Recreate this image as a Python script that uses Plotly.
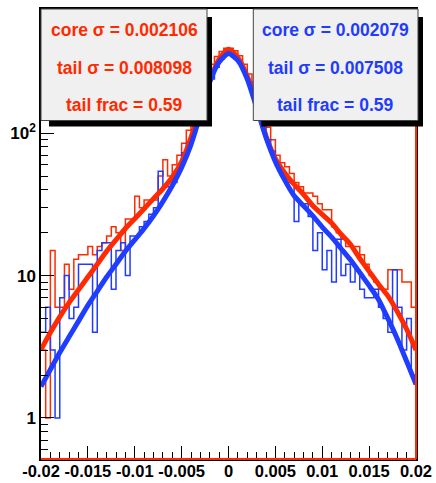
import numpy as np
import plotly.graph_objects as go

# ---- data -----------------------------------------------------------------
x_lo, x_hi = -0.02, 0.02
n_bins = 80

red_counts = [3, 1, 15, 6, 6, 12, 8, 13, 14, 14, 16, 14, 16, 17, 19, 22, 20, 15, 25, 25,
              36, 30, 34, 34, 34, 50, 65, 50, 60, 70, 85, 105, 135, 170, 215, 260, 305, 345, 375, 395,
              395, 380, 350, 305, 260, 215, 170, 135, 110, 90, 70, 62, 58, 52, 45, 42, 38, 38, 36, 32,
              29, 29, 22, 20, 18, 16, 16, 16, 14, 12, 10, 9, 8, 8, 11, 11, 11, 9, 9, 6]

blue_counts = [4, 6, 3, 1, 7, 10, 5, 6, 12, 12, 12, 4, 15, 17, 17, 8, 15, 17, 10, 19,
               19, 22, 24, 27, 30, 54, 42, 42, 45, 55, 73, 85, 100, 125, 150, 190, 240, 290, 330, 355,
               360, 345, 315, 275, 230, 185, 145, 110, 90, 75, 60, 52, 45, 45, 24, 32, 32, 26, 15, 20,
               11, 15, 9, 18, 10, 12, 9, 11, 8, 7, 7, 8, 6, 5, 4, 11, 6, 3, 5, 2]

fit_x = [-0.020, -0.019, -0.018, -0.017, -0.016, -0.015, -0.014, -0.013, -0.012, -0.011,
         -0.010, -0.009, -0.008, -0.007, -0.006, -0.005, -0.004, -0.003, -0.002, -0.001,
         0.000, 0.001, 0.002, 0.003, 0.004, 0.005, 0.006, 0.007, 0.008, 0.009,
         0.010, 0.011, 0.012, 0.013, 0.014, 0.015, 0.016, 0.017, 0.018, 0.019, 0.020]

red_fit = [3.02, 3.98, 5.13, 6.46, 7.94, 9.77, 12.0, 14.8, 17.8, 21.4,
           25.1, 29.5, 34.7, 40.7, 49.0, 63.1, 93.3, 151, 234, 331,
           389, 339, 251, 158, 95.5, 66.1, 52.5, 43.7, 37.2, 30.9,
           26.9, 23.4, 19.5, 16.6, 13.2, 10.7, 8.7, 7.2, 5.6, 4.2, 3.0]

blue_fit = [1.66, 2.19, 2.88, 3.72, 4.79, 6.17, 7.76, 9.77, 12.0, 14.8,
            17.8, 21.4, 26.3, 33.1, 42.7, 57.5, 83.2, 135, 229, 316,
            363, 324, 240, 151, 93.3, 63.1, 46.8, 36.3, 30.9, 26.3,
            21.9, 18.6, 15.5, 12.9, 10.5, 8.5, 6.8, 5.0, 3.6, 2.5, 1.72]

red_text = ["core \u03c3 = 0.002106", "tail \u03c3 = 0.008098", "tail frac = 0.59"]
blue_text = ["core \u03c3 = 0.002079", "tail \u03c3 = 0.007508", "tail frac = 0.59"]

x_tick_vals = [-0.02, -0.015, -0.01, -0.005, 0, 0.005, 0.01, 0.015, 0.02]
x_tick_text = ["-0.02", "-0.015", "-0.01", "-0.005", "0", "0.005", "0.01", "0.015", "0.02"]
y_tick_vals = [1, 10, 100]
y_tick_text = ["1", "10", "10<sup>2</sup>"]

# ---- styling --------------------------------------------------------------
RED = "#ff2a00"
BLUE = "#1f3cff"
FONT = "Liberation Sans, Arial"
W, H = 436, 483
ML, MR, MT, MB = 41, 20, 9, 24
y_lo, y_hi = 0.515, 745

edges = np.linspace(x_lo, x_hi, n_bins + 1)


def step_trace(counts, color):
    ys = list(counts) + [counts[-1]]
    return go.Scatter(x=edges, y=ys, mode="lines", line=dict(color=color, width=1.5, shape="hv"),
                      hoverinfo="skip", showlegend=False)


def fit_trace(vals, color):
    return go.Scatter(x=fit_x, y=vals, mode="lines",
                      line=dict(color=color, width=5, shape="spline", smoothing=0.6),
                      hoverinfo="skip", showlegend=False)


fig = go.Figure()
fig.add_trace(step_trace(red_counts, RED))
fig.add_trace(step_trace(blue_counts, BLUE))
fig.add_trace(fit_trace(red_fit, RED))
fig.add_trace(fit_trace(blue_fit, BLUE))

pw, ph = W - ML - MR, H - MT - MB


def px_x(p):
    return (p - ML) / pw


def px_y(p):
    return (H - MB - p) / ph


shapes = [
    # red histogram border along the bottom and at the upper edge of the range
    dict(type="line", xref="paper", yref="paper", x0=0, x1=1, y0=0, y1=0,
         line=dict(color=RED, width=2), layer="above"),
    dict(type="line", xref="paper", yref="paper", x0=1, x1=1, y0=0, y1=1,
         line=dict(color=RED, width=2), layer="above"),
]


def pave(x0, x1, y0, y1, sdx=8, sw=5):
    return [
        dict(type="rect", xref="paper", yref="paper",
             x0=px_x(x0 + sdx), x1=px_x(x1 + sw), y0=px_y(y1 + 6), y1=px_y(y0 + sdx),
             line=dict(width=0), fillcolor="black", layer="above"),
        dict(type="rect", xref="paper", yref="paper",
             x0=px_x(x0), x1=px_x(x1), y0=px_y(y1), y1=px_y(y0),
             line=dict(color="#444444", width=1), fillcolor="#f0f0f0", layer="above"),
    ]


shapes += pave(41, 207, 9, 120.5)
shapes += pave(253.3, 418, 9, 120.5)

annotations = []
for lines, cx, col in ((red_text, 124, RED), (blue_text, 335.5, BLUE)):
    for txt, cy in zip(lines, (30, 68, 105)):
        annotations.append(dict(text="<b>" + txt + "</b>", x=px_x(cx), y=px_y(cy),
                                xref="paper", yref="paper", showarrow=False,
                                xanchor="center", yanchor="middle",
                                font=dict(family=FONT, size=17.5, color=col)))

fig.update_layout(
    width=W, height=H,
    margin=dict(l=ML, r=MR, t=MT, b=MB, pad=0, autoexpand=False),
    paper_bgcolor="white", plot_bgcolor="white",
    shapes=shapes, annotations=annotations,
    font=dict(family=FONT, size=17, color="black"),
)
fig.update_xaxes(range=[x_lo, x_hi], tickvals=x_tick_vals, ticktext=["<b>%s</b>" % t for t in x_tick_text],
                 tickangle=0, automargin=False, tickfont=dict(size=16.5),
                 ticks="inside", ticklen=13, tickwidth=1.2, tickcolor="black",
                 minor=dict(dtick=0.001, tick0=0, ticks="inside", ticklen=7, tickcolor="black", tickwidth=1.2),
                 showline=True, linecolor="black", linewidth=1.5, mirror=True,
                 showgrid=False, zeroline=False, ticklabelstandoff=-4)
fig.update_yaxes(type="log", range=[np.log10(y_lo), np.log10(y_hi)], automargin=False,
                 tickvals=y_tick_vals, ticktext=["<b>%s</b>" % t for t in y_tick_text],
                 tickfont=dict(size=17),
                 ticks="inside", ticklen=13, tickwidth=1.2, tickcolor="black",
                 minor=dict(dtick="D1", ticks="inside", ticklen=7, tickcolor="black", tickwidth=1.2),
                 showline=True, linecolor="black", linewidth=1.5, mirror=True,
                 showgrid=False, zeroline=False)

fig.write_html("out.html")
